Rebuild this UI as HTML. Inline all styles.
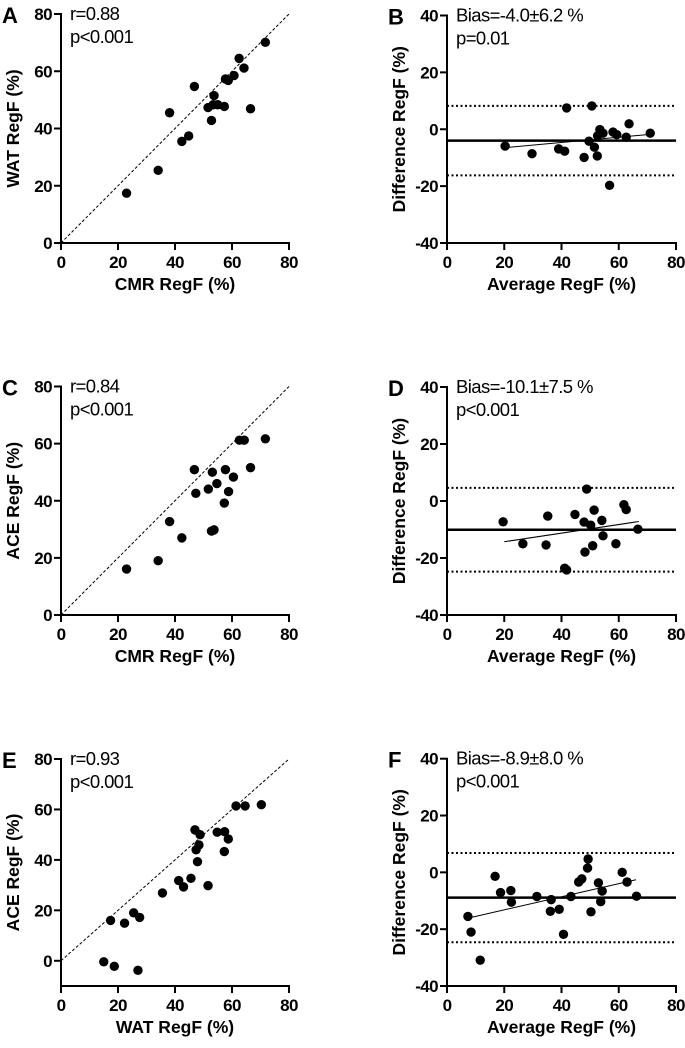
<!DOCTYPE html>
<html><head><meta charset="utf-8"><style>
html,body{margin:0;padding:0;background:#fff}
svg{display:block;font-family:"Liberation Sans",Arial,sans-serif}
</style></head><body>
<svg id="fig" width="685" height="1048" viewBox="0 0 685 1048" xmlns="http://www.w3.org/2000/svg"></svg>
<script>
// Panel A data (CMR vs WAT)
const aX=[23.0,34.1,38.1,42.4,44.8,46.8,51.6,52.8,53.7,53.4,55.0,57.3,57.7,58.7,60.7,62.5,64.2,66.5,71.7];
const aY=[17.4,25.4,45.5,35.5,37.4,54.7,47.3,42.8,51.5,48.3,48.3,47.7,57.3,56.8,58.5,64.5,61.1,46.9,70.1];
// Panel B data
const bX=[20.3,29.7,41.8,39.0,41.1,47.9,49.6,50.6,51.5,52.6,52.5,53.4,54.5,59.3,56.8,62.6,63.6,71.0,58.0];
const bY=[-5.9,-8.6,7.5,-6.9,-7.7,-9.9,-4.2,8.2,-6.3,-2.3,-9.4,-0.1,-1.4,-1.9,-19.7,-2.8,1.9,-1.4,-1.0];
const bStats=[-4.0,8.2,-16.2]; const bReg=[20,-6.5,71,-1.8];
// Panel C data (CMR vs ACE)
const cX=[23.0,34.1,38.1,42.4,46.8,47.3,51.7,53.1,52.8,53.7,54.7,57.3,57.7,58.8,60.5,62.6,64.3,66.5,71.7];
const cY=[16.1,19.0,32.7,27.0,50.9,42.6,44.1,50.0,29.4,29.8,46.0,39.2,50.9,43.2,48.3,61.2,61.2,51.6,61.7];
// Panel D data
const dX=[19.6,26.5,34.6,35.2,41.1,41.8,44.7,47.9,48.2,48.8,50.2,50.9,51.4,54.1,54.5,59.0,61.8,62.6,66.7];
const dY=[-7.3,-15.0,-15.4,-5.3,-23.6,-24.2,-4.7,-7.4,-17.9,4.2,-8.5,-15.7,-3.2,-6.8,-12.2,-15.0,-1.3,-3.0,-9.9];
const dStats=[-10.1,4.6,-24.8]; const dReg=[20,-14.3,67,-7.2];
// Panel E data (WAT vs ACE)
const eX=[15.0,17.4,18.7,22.3,25.5,27.6,27.0,35.6,41.3,43.0,45.6,47.0,47.4,47.9,48.4,48.8,51.6,54.8,57.4,57.3,58.7,61.4,64.6,70.3];
const eY=[-0.4,16.0,-2.2,14.9,19.0,17.2,-3.8,26.9,31.8,29.3,32.7,51.9,44.0,39.3,45.9,50.0,29.8,51.0,51.2,43.3,48.3,61.4,61.4,61.9];
// Panel F data
const fX=[7.3,8.4,11.6,16.8,18.7,22.3,22.5,31.4,36.4,36.1,39.2,40.7,43.3,46.0,47.1,49.3,49.1,50.3,52.9,53.7,54.2,61.2,62.9,66.2];
const fY=[-15.5,-21.0,-30.9,-1.4,-7.1,-6.4,-10.5,-8.5,-9.6,-13.7,-13.0,-21.8,-8.5,-3.4,-2.3,4.7,1.5,-13.9,-3.7,-10.3,-6.6,0.0,-3.4,-8.4];
const fStats=[-8.9,6.8,-24.6]; const fReg=[7,-16.2,66,-2.6];

const xTicks=[0,20,40,60,80];
const yTicksCorr=[0,20,40,60,80];
const yTicksBA=[-40,-20,0,20,40];

const NS="http://www.w3.org/2000/svg";
const svg=document.getElementById('fig');
function mk(tag,attrs,parent){const e=document.createElementNS(NS,tag);for(const k in attrs)e.setAttribute(k,attrs[k]);(parent||svg).appendChild(e);return e;}
function txt(s,attrs,parent){const e=mk('text',attrs,parent);e.textContent=s;return e;}

function panel(p){
  const g=mk('g',{});
  
  
  const sx=v=>p.x0+(v-p.xmin)/(p.xmax-p.xmin)*(p.x1-p.x0);
  const sy=v=>p.y0-(v-p.ymin)/(p.ymax-p.ymin)*(p.y0-p.y1);
  const axisY=p.y0;
  const L=txt(p.letter,{x:p.x0-59,y:p.y1+9,'font-size':22,'font-weight':'bold'},g);
  
  
  if(p.identity){
    const l=mk('line',{x1:sx(0),y1:sy(0),x2:sx(80),y2:sy(80),stroke:'#000','stroke-width':1,'stroke-dasharray':'3,2'},g);
    
    
  }
  if(p.stats){
    const mean=mk('line',{x1:p.x0,y1:sy(p.stats[0]),x2:p.x1,y2:sy(p.stats[0]),stroke:'#000','stroke-width':2.5},g);
    
    
    for(let i=1;i<3;i++){
      const lo=mk('line',{x1:p.x0,y1:sy(p.stats[i]),x2:p.x1,y2:sy(p.stats[i]),stroke:'#000','stroke-width':2,'stroke-dasharray':'2,2.5'},g);
      
      
    }
    const r=p.reg;
    const rl=mk('line',{x1:sx(r[0]),y1:sy(r[1]),x2:sx(r[2]),y2:sy(r[3]),stroke:'#000','stroke-width':1},g);
    
    
  }
  for(let i=0;i<p.xs.length;i++){
    const c=mk('circle',{cx:sx(p.xs[i]),cy:sy(p.ys[i]),r:4.7,fill:'#000'},g);
    
    
  }
  const ya=mk('line',{x1:p.x0,y1:p.y1-1,x2:p.x0,y2:axisY+1,stroke:'#000','stroke-width':2},g);
  
  
  const xa=mk('line',{x1:p.x0-1,y1:axisY,x2:p.x1+1,y2:axisY,stroke:'#000','stroke-width':2},g);
  
  
  for(const t of p.yt){
    mk('line',{x1:p.x0-7,y1:sy(t),x2:p.x0,y2:sy(t),stroke:'#000','stroke-width':2},g);
    const tl=txt(String(t),{x:p.x0-9,y:sy(t)+6,'font-size':17,'font-weight':'bold','text-anchor':'end','letter-spacing':'-0.6'},g);
    
    
  }
  for(const t of xTicks){
    mk('line',{x1:sx(t),y1:axisY,x2:sx(t),y2:axisY+7,stroke:'#000','stroke-width':2},g);
    const tl=txt(String(t),{x:sx(t),y:axisY+25,'font-size':17,'font-weight':'bold','text-anchor':'middle','letter-spacing':'-0.6'},g);
    
    
  }
  const xt=txt(p.xlabel,{x:(p.x0+p.x1)/2,y:axisY+47,'font-size':17.5,'font-weight':'bold','text-anchor':'middle'},g);
  
  
  const yc=(p.y0+p.y1)/2, yx=p.x0-42;
  const yt=txt(p.ylabel,{x:yx,y:yc,'font-size':17.5,'font-weight':'bold','text-anchor':'middle',transform:`rotate(-90 ${yx} ${yc})`},g);
  
  
  const s1=txt(p.s1,{x:p.x0+9,y:p.y1+6,'font-size':18.5,'letter-spacing':'-0.6'},g);
  
  
  const s2=txt(p.s2,{x:p.x0+9,y:p.y1+29,'font-size':18.5,'letter-spacing':'-0.6'},g);
  
  
}

panel({letter:'A',x0:61,x1:289,xmin:0,xmax:80,y0:243,y1:14,ymin:0,ymax:80,xs:aX,ys:aY,yt:yTicksCorr,identity:true,xlabel:'CMR RegF (%)',ylabel:'WAT RegF (%)',s1:'r=0.88',s2:'p<0.001'});
panel({letter:'B',x0:447,x1:676,xmin:0,xmax:80,y0:243,y1:15.5,ymin:-40,ymax:40,xs:bX,ys:bY,yt:yTicksBA,stats:bStats,reg:bReg,xlabel:'Average RegF (%)',ylabel:'Difference RegF (%)',s1:'Bias=-4.0±6.2 %',s2:'p=0.01'});
panel({letter:'C',x0:61,x1:289,xmin:0,xmax:80,y0:615,y1:386.5,ymin:0,ymax:80,xs:cX,ys:cY,yt:yTicksCorr,identity:true,xlabel:'CMR RegF (%)',ylabel:'ACE RegF (%)',s1:'r=0.84',s2:'p<0.001'});
panel({letter:'D',x0:447,x1:676,xmin:0,xmax:80,y0:615,y1:387,ymin:-40,ymax:40,xs:dX,ys:dY,yt:yTicksBA,stats:dStats,reg:dReg,xlabel:'Average RegF (%)',ylabel:'Difference RegF (%)',s1:'Bias=-10.1±7.5 %',s2:'p<0.001'});
panel({letter:'E',x0:61,x1:289,xmin:0,xmax:80,y0:986,y1:759,ymin:-10,ymax:80,xs:eX,ys:eY,yt:yTicksCorr,identity:true,xlabel:'WAT RegF (%)',ylabel:'ACE RegF (%)',s1:'r=0.93',s2:'p<0.001'});
panel({letter:'F',x0:447,x1:676,xmin:0,xmax:80,y0:986,y1:758.7,ymin:-40,ymax:40,xs:fX,ys:fY,yt:yTicksBA,stats:fStats,reg:fReg,xlabel:'Average RegF (%)',ylabel:'Difference RegF (%)',s1:'Bias=-8.9±8.0 %',s2:'p<0.001'});
</script>
</body></html>
